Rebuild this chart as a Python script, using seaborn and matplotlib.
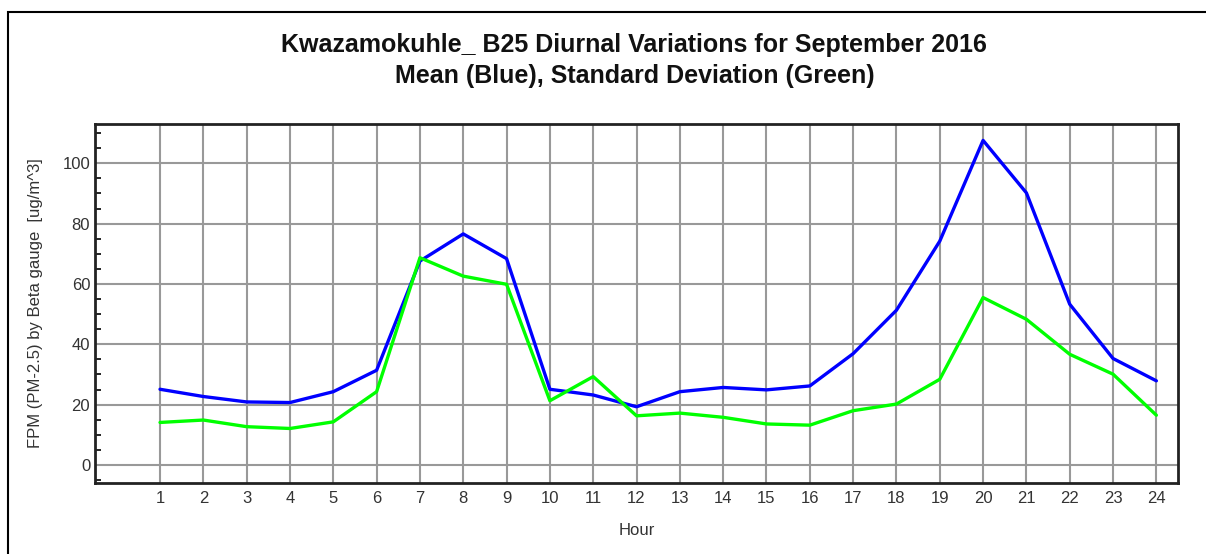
import pandas as pd
import seaborn as sns
import matplotlib.pyplot as plt
from matplotlib.patches import Rectangle
from matplotlib.ticker import MultipleLocator

# Hourly values
hours = list(range(1, 25))
mean_pm25 = [25.1, 22.7, 20.9, 20.7, 24.3, 31.4, 67.6, 76.6, 68.4, 25.1, 23.2, 19.3,
             24.3, 25.7, 24.9, 26.2, 36.9, 51.3, 74.2, 107.6, 90.2, 53.3, 35.3, 27.9]
std_pm25 = [14.1, 14.9, 12.7, 12.1, 14.3, 24.3, 68.7, 62.6, 59.9, 21.3, 29.3, 16.3,
            17.2, 15.8, 13.6, 13.2, 18.0, 20.2, 28.4, 55.5, 48.3, 36.7, 30.1, 16.5]

df = pd.DataFrame({'Hour': hours, 'Mean': mean_pm25, 'Std': std_pm25})

sns.set_style('white')
plt.rcParams['font.family'] = ['Liberation Sans', 'DejaVu Sans']

fig = plt.figure(figsize=(12.06, 5.54), dpi=100)
ax = fig.add_axes([0.0788, 0.128, 0.8980, 0.648])

# outer frame of the original image
fig.patches.append(Rectangle((8 / 1206, -0.1), 1.2, 0.1 + (554 - 12) / 554,
                             transform=fig.transFigure, fill=False,
                             edgecolor='black', linewidth=1.5))

sns.lineplot(data=df, x='Hour', y='Mean', color='#0000ff', linewidth=2.4, ax=ax)
sns.lineplot(data=df, x='Hour', y='Std', color='#00ff00', linewidth=2.4, ax=ax)

ax.set_xlim(-0.5, 24.5)
ax.set_ylim(-6, 113)
ax.set_xticks(hours)
ax.yaxis.set_major_locator(MultipleLocator(20))
ax.yaxis.set_minor_locator(MultipleLocator(5))
ax.set_yticks(range(0, 101, 20))

ax.grid(True, which='major', color='#999999', linewidth=1.5)
ax.tick_params(axis='both', which='both', direction='in', colors='black',
               labelcolor='#333333', labelsize=12)
ax.tick_params(axis='both', which='major', length=5, width=1.5)
ax.tick_params(axis='y', which='minor', length=4, width=1.2, left=True)
ax.tick_params(axis='x', pad=6)
for s in ax.spines.values():
    s.set_color('#222222')
    s.set_linewidth(2)

ax.set_xlabel('Hour', fontsize=12, color='#333333', labelpad=12)
ax.set_ylabel('FPM (PM-2.5) by Beta gauge  [ug/m^3]', fontsize=12,
              color='#333333', labelpad=14)

fig.text(0.526, 0.918, 'Kwazamokuhle_ B25 Diurnal Variations for September 2016',
         ha='center', va='center', fontsize=18, fontweight='bold', color='#111111')
fig.text(0.526, 0.862, 'Mean (Blue), Standard Deviation (Green)',
         ha='center', va='center', fontsize=18, fontweight='bold', color='#111111')

plt.savefig('out.png', dpi=100)
